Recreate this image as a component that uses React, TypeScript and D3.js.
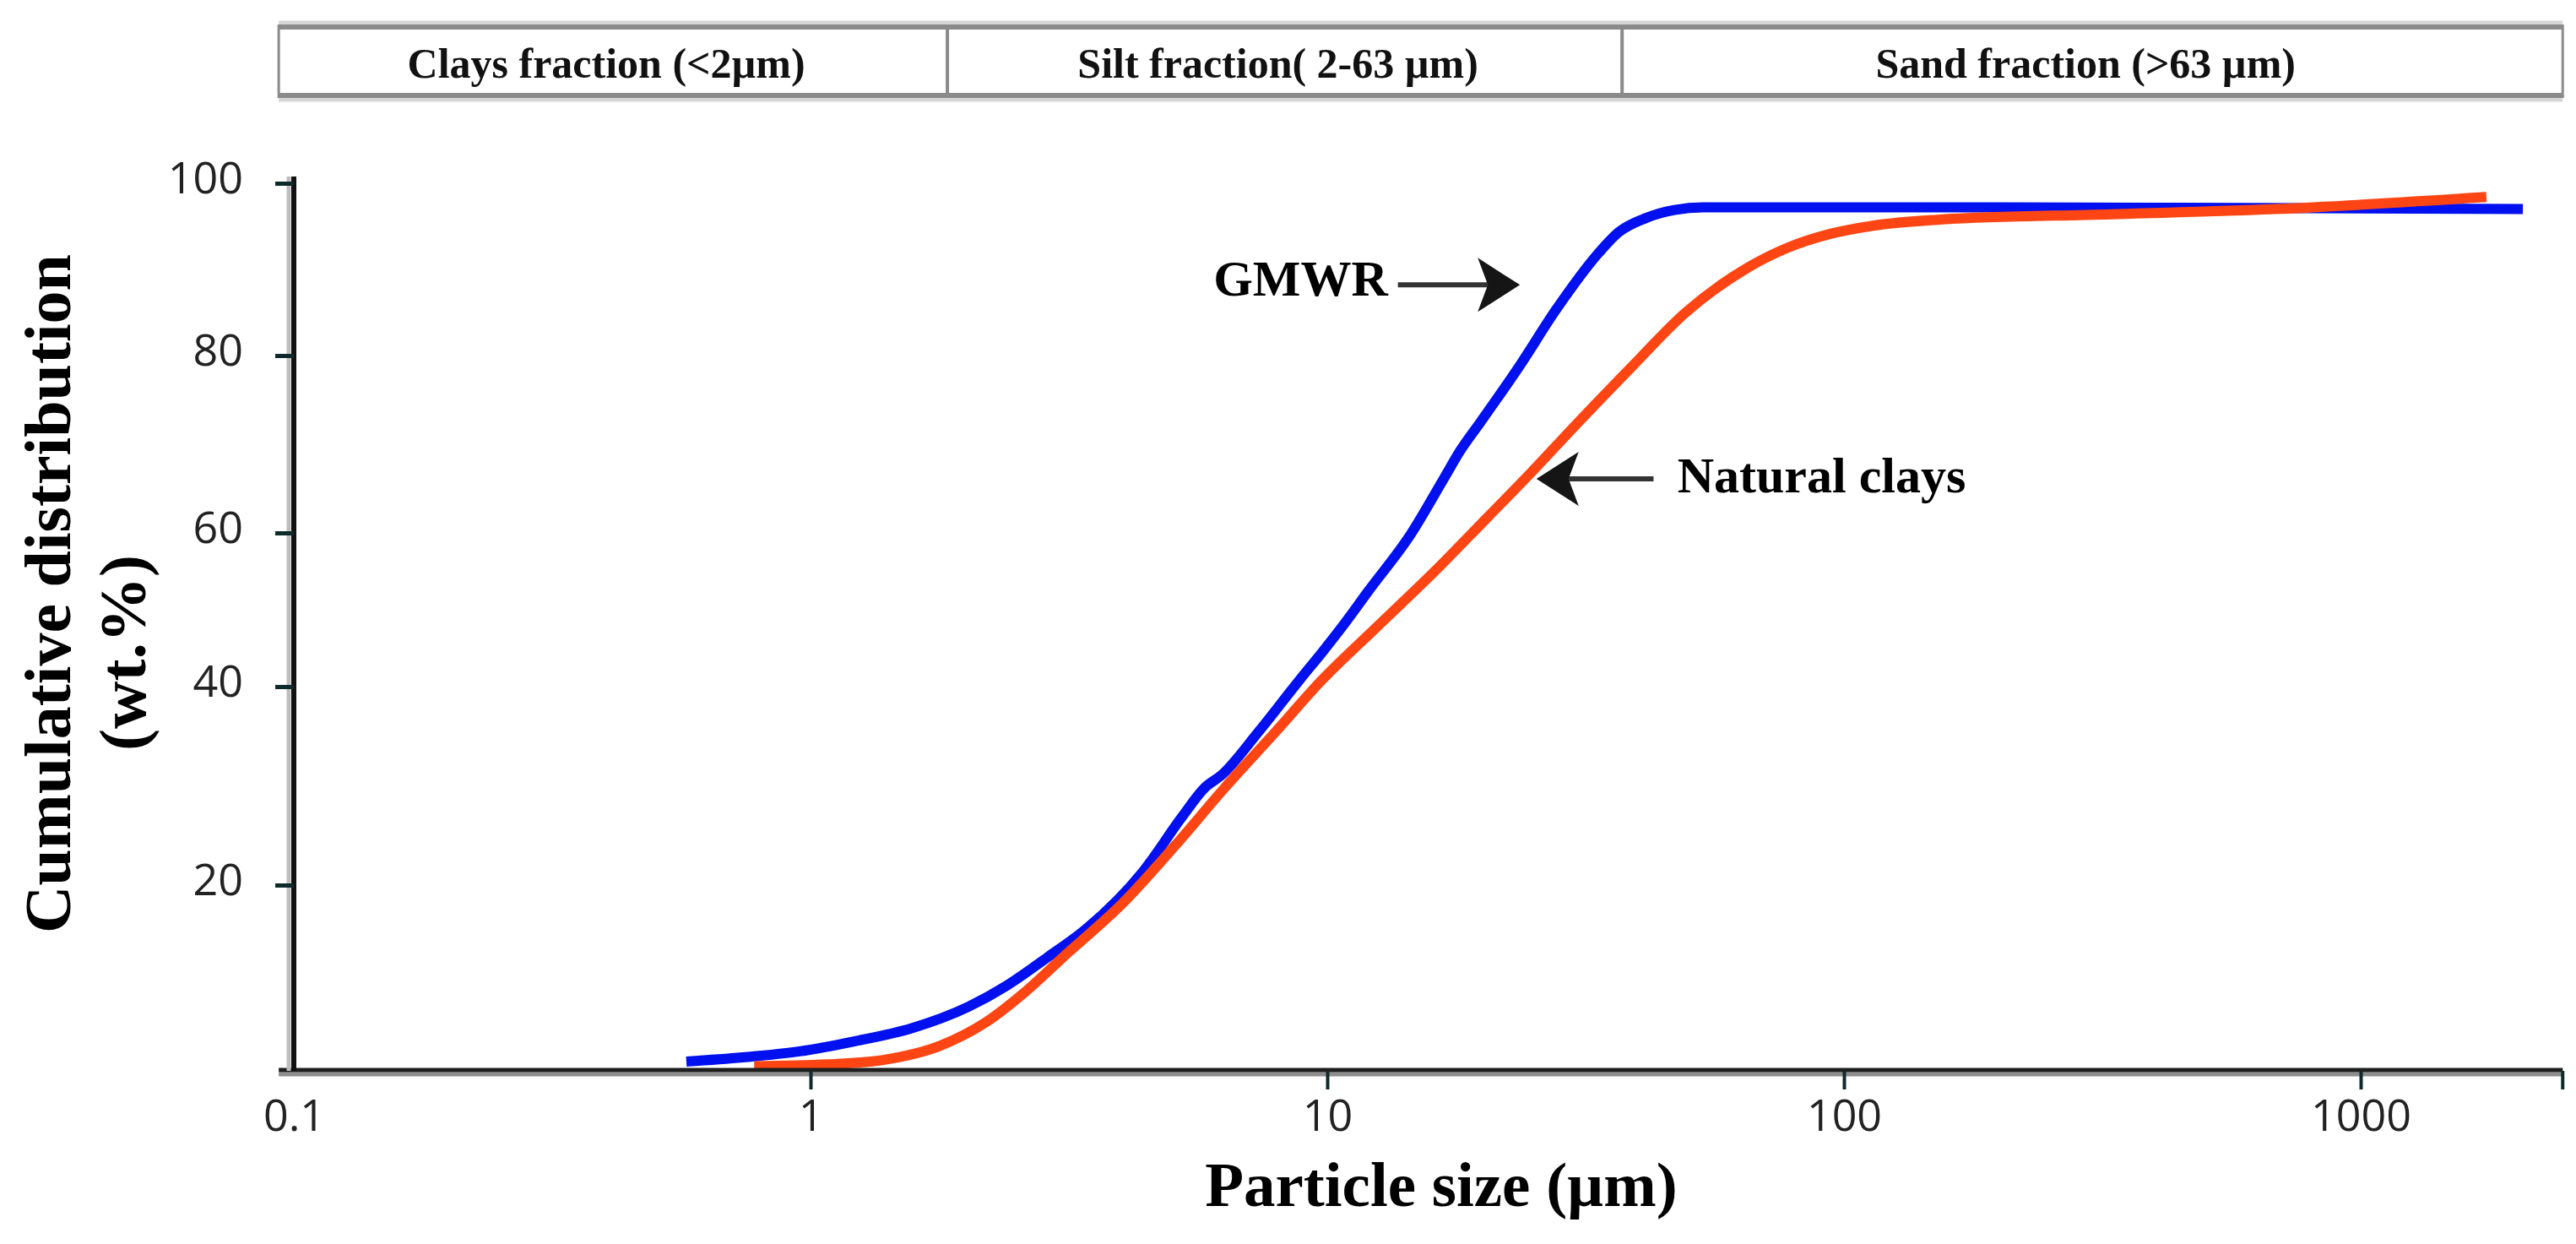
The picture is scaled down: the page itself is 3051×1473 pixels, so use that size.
import { useEffect, useRef } from 'react'
import * as d3 from 'd3'

const W = 3051
const H = 1473

const xTicks = [0.1, 1, 10, 100, 1000]
const xEnd = 2460
const yTicks = [20, 40, 60, 80, 100]
// the y axis of the figure is not evenly spaced, so each level gets its own stop
const yLevels = [0, 20, 40, 60, 80, 100]

// GMWR, cumulative wt.% against particle size (µm)
const gmwrSize = [0.575, 0.739, 0.952, 1.22, 1.57, 2.02, 2.40, 2.87, 3.42, 4.39, 5.24, 5.79, 6.25, 7.35, 8.87, 9.81, 10.8, 12.0, 14.5, 16.8, 18.1, 19.8, 23.6, 27.7, 33.5, 36.6, 41.5, 47.0, 53.4, 200, 800, 2060]
const gmwrCum = [1.0, 1.45, 2.1, 3.2, 4.6, 6.9, 9.2, 12.2, 15.3, 21.3, 26.9, 29.8, 31.1, 35.4, 41.0, 44.6, 48.2, 52.4, 59.8, 66.1, 69.3, 72.5, 78.9, 85.3, 91.9, 94.3, 96.0, 96.9, 97.2, 97.2, 97.1, 97.0]

// Natural clays
const claySize = [0.778, 1.08, 1.39, 1.78, 2.18, 2.59, 3.09, 4.06, 5.10, 6.33, 7.93, 9.75, 12.4, 16.2, 20.3, 24.8, 30.3, 38.5, 49.4, 65.1, 77.7, 93.8, 114.6, 155, 328, 681, 1751]
const clayCum = [0.5, 0.7, 1.2, 2.7, 5.2, 8.4, 12.3, 18.3, 24.1, 29.8, 35.4, 40.8, 47.6, 55.1, 61.6, 66.8, 72.2, 78.5, 85.0, 90.2, 92.5, 94.1, 95.1, 95.8, 96.4, 97.0, 98.4]

const fractions = ['Clays fraction (<2µm)', 'Silt fraction( 2-63 µm)', 'Sand fraction (>63 µm)']
const fractionEdges = [0.0935, 1.84, 37.2, 2460]

const notes = [
  { text: 'GMWR', tx: 13.1, ty: 87.0, anchor: 'end', from: 13.7, to: 23.6, ay: 88.2 },
  { text: 'Natural clays', tx: 47.6, ty: 64.6, anchor: 'start', from: 42.8, to: 25.4, ay: 66.1 },
]

const serif = '"Liberation Serif", "Times New Roman", serif'
const sans = '"Open Sans", "Noto Sans", sans-serif'

export default function App() {
  const svgRef = useRef<SVGSVGElement>(null)

  useEffect(() => {
    if (!svgRef.current) return
    const svg = d3.select(svgRef.current)
    svg.selectAll('*').remove()

    const x = d3.scaleLog().domain([0.1, 1000]).range([348, 2796])
    const y = d3.scaleLinear().domain(yLevels).range([1268, 1048, 813, 631, 421, 217])

    // fraction header
    const head = svg.append('g')
    const hx0 = x(fractionEdges[0])
    const hx1 = x(fractionEdges[fractionEdges.length - 1])
    const hTop = 32
    const hBot = 113
    head.append('line').attr('x1', hx0).attr('x2', hx1).attr('y1', hTop - 5).attr('y2', hTop - 5)
      .attr('stroke', '#d6d6d6').attr('stroke-width', 5)
    head.append('line').attr('x1', hx0).attr('x2', hx1).attr('y1', hBot + 5).attr('y2', hBot + 5)
      .attr('stroke', '#d6d6d6').attr('stroke-width', 5)
    head.append('line').attr('x1', hx0).attr('x2', hx1).attr('y1', hTop).attr('y2', hTop)
      .attr('stroke', '#8a8a8a').attr('stroke-width', 6)
    head.append('line').attr('x1', hx0).attr('x2', hx1).attr('y1', hBot).attr('y2', hBot)
      .attr('stroke', '#8a8a8a').attr('stroke-width', 6)
    head.selectAll('.edge')
      .data(fractionEdges)
      .enter()
      .append('line')
      .attr('x1', d => x(d)).attr('x2', d => x(d))
      .attr('y1', hTop - 3).attr('y2', hBot + 3)
      .attr('stroke', '#8a8a8a')
      .attr('stroke-width', (d, i) => (i === 0 || i === fractionEdges.length - 1 ? 3 : 4))
    head.selectAll('.frac')
      .data(fractions)
      .enter()
      .append('text')
      .attr('x', (d, i) => (x(fractionEdges[i]) + x(fractionEdges[i + 1])) / 2 - 8)
      .attr('y', 92)
      .attr('text-anchor', 'middle')
      .attr('font-family', serif)
      .attr('font-weight', 'bold')
      .attr('font-size', 50)
      .attr('fill', '#111')
      .text(d => d)

    // curves
    const line = d3.line<[number, number]>()
      .x(d => x(d[0]))
      .y(d => y(d[1]))
      .curve(d3.curveMonotoneX)

    const gmwr = gmwrSize.map((s, i) => [s, gmwrCum[i]] as [number, number])
    const clay = claySize.map((s, i) => [s, clayCum[i]] as [number, number])

    svg.append('path')
      .datum(gmwr)
      .attr('fill', 'none')
      .attr('stroke', '#0010ee')
      .attr('stroke-width', 12)
      .attr('d', line)

    svg.append('path')
      .datum(clay)
      .attr('fill', 'none')
      .attr('stroke', '#ff4514')
      .attr('stroke-width', 12)
      .attr('d', line)

    // axes
    const y0 = y(0)
    const ax = x(0.1)
    svg.append('line').attr('x1', hx0).attr('x2', x(xEnd)).attr('y1', y0 + 4).attr('y2', y0 + 4)
      .attr('stroke', '#8e8e8e').attr('stroke-width', 5)
    svg.append('line').attr('x1', hx0).attr('x2', x(xEnd)).attr('y1', y0 - 1).attr('y2', y0 - 1)
      .attr('stroke', '#1e1e1e').attr('stroke-width', 5)
    svg.append('line').attr('x1', ax - 6).attr('x2', ax - 6).attr('y1', y(100) - 8).attr('y2', y0)
      .attr('stroke', '#bdbdbd').attr('stroke-width', 5)
    svg.append('line').attr('x1', ax).attr('x2', ax).attr('y1', y(100) - 8).attr('y2', y0)
      .attr('stroke', '#111').attr('stroke-width', 6)

    const xAxis = svg.append('g')
      .attr('transform', `translate(0,${y0})`)
      .call(d3.axisBottom(x).tickValues(xTicks).tickFormat(d => String(d)).tickSize(22).tickSizeOuter(0).tickPadding(12))
    xAxis.select('.domain').remove()
    xAxis.selectAll('.tick line')
      .attr('stroke', '#0f2a2a')
      .attr('stroke-width', 4)
      .attr('opacity', (d: any) => (d === 0.1 ? 0 : 1))
    xAxis.selectAll('text')
      .attr('font-family', sans)
      .attr('font-size', 52)
      .attr('fill', '#222')
    xAxis.append('line')
      .attr('x1', x(xEnd)).attr('x2', x(xEnd))
      .attr('y1', 0).attr('y2', 22)
      .attr('stroke', '#0f2a2a').attr('stroke-width', 4)

    const yAxis = svg.append('g')
      .attr('transform', `translate(${ax},0)`)
      .call(d3.axisLeft(y).tickValues(yTicks).tickSize(22).tickSizeOuter(0).tickPadding(38))
    yAxis.select('.domain').remove()
    yAxis.selectAll('.tick line')
      .attr('stroke', '#0f2a2a')
      .attr('stroke-width', 5)
    yAxis.selectAll('text')
      .attr('font-family', sans)
      .attr('font-size', 52)
      .attr('fill', '#222')
      .attr('dy', '0.22em')

    // axis titles
    svg.append('text')
      .attr('transform', 'translate(83,703) rotate(-90)')
      .attr('text-anchor', 'middle')
      .attr('font-family', serif)
      .attr('font-weight', 'bold')
      .attr('font-size', 78)
      .text('Cumulative distribution')
    svg.append('text')
      .attr('transform', 'translate(172,773) rotate(-90)')
      .attr('text-anchor', 'middle')
      .attr('font-family', serif)
      .attr('font-weight', 'bold')
      .attr('font-size', 78)
      .text('(wt.%)')
    svg.append('text')
      .attr('x', 1707)
      .attr('y', 1428)
      .attr('text-anchor', 'middle')
      .attr('font-family', serif)
      .attr('font-weight', 'bold')
      .attr('font-size', 75)
      .text('Particle size (µm)')

    // curve labels with arrows
    notes.forEach(n => {
      const tip = x(n.to)
      const tail = x(n.from)
      const ay = y(n.ay)
      const dir = tip > tail ? 1 : -1
      const hl = 50
      const hw = 32
      const notch = 38
      svg.append('line')
        .attr('x1', tail).attr('x2', tip - dir * notch)
        .attr('y1', ay).attr('y2', ay)
        .attr('stroke', '#333').attr('stroke-width', 6)
      svg.append('path')
        .attr('d', `M${tip},${ay} L${tip - dir * hl},${ay - hw} L${tip - dir * notch},${ay} L${tip - dir * hl},${ay + hw} Z`)
        .attr('fill', '#151515')
      svg.append('text')
        .attr('x', x(n.tx))
        .attr('y', y(n.ty))
        .attr('text-anchor', n.anchor)
        .attr('font-family', serif)
        .attr('font-weight', 'bold')
        .attr('font-size', 60)
        .attr('fill', '#000')
        .text(n.text)
    })
  }, [])

  return (
    <svg
      ref={svgRef}
      width={W}
      height={H}
      style={{ position: 'absolute', left: 0, top: 0, background: '#fff' }}
    />
  )
}
